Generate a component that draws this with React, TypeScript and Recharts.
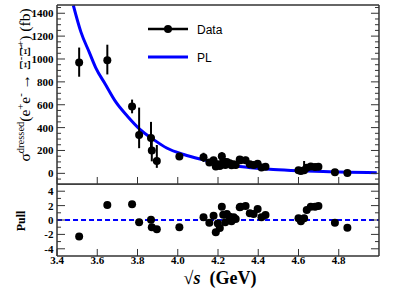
import React from 'react';
import { ComposedChart, Scatter, Line, XAxis, YAxis, ErrorBar, ReferenceLine } from 'recharts';

// measured points (sqrt(s) in GeV, dressed cross section in fb)
const ENERGY = [3.51, 3.65, 3.773, 3.808, 3.867, 3.871, 3.896, 4.008, 4.128, 4.157, 4.178, 4.189, 4.199, 4.209, 4.219, 4.226, 4.236, 4.244, 4.258, 4.267, 4.278, 4.288, 4.308, 4.312, 4.337, 4.358, 4.377, 4.397, 4.416, 4.436, 4.6, 4.612, 4.628, 4.641, 4.661, 4.682, 4.699, 4.781, 4.843];
const XSEC = [970, 990, 585, 335, 310, 200, 108, 148, 140, 95, 115, 60, 80, 65, 150, 105, 72, 100, 88, 70, 80, 72, 120, 115, 115, 80, 72, 85, 52, 58, 28, 20, 28, 48, 60, 55, 58, 10, 2];
const ERR_LOW = [125, 125, 60, 115, 140, 95, 60, 30, 40, 30, 25, 20, 20, 20, 35, 25, 20, 25, 28, 20, 25, 30, 30, 30, 30, 25, 25, 25, 22, 25, 15, 15, 28, 20, 22, 20, 22, 10, 8];
const ERR_HIGH = [130, 135, 60, 240, 140, 100, 140, 30, 40, 30, 25, 20, 20, 20, 35, 25, 20, 25, 28, 20, 25, 30, 30, 30, 30, 25, 25, 25, 22, 25, 15, 15, 80, 20, 22, 20, 22, 10, 8];
const PULL = [-2.3, 2.1, 2.2, -0.3, 0.05, -1.0, -1.3, -1.0, 0.37, -0.37, 0.6, -1.7, -0.5, -1.1, 1.85, 0.74, -0.33, 0.83, 0.46, -0.19, 0.37, 0.14, 1.76, 1.85, 1.94, 0.93, 0.83, 1.53, 0.37, 0.69, 0.23, -0.19, 0.23, 1.39, 1.85, 1.85, 1.94, -0.37, -1.06];

// PL fit curve
const PL_X = [3.481, 3.519, 3.56, 3.592, 3.64, 3.692, 3.75, 3.812, 3.88, 3.945, 4.03, 4.111, 4.226, 4.35, 4.475, 4.6, 4.723, 4.85, 4.989];
const PL_Y = [1470, 1235, 1060, 925, 780, 625, 500, 385, 295, 222, 165, 125, 80, 52, 34, 23, 16, 10, 6];

const X_MAJOR = [3.4, 3.6, 3.8, 4.0, 4.2, 4.4, 4.6, 4.8];
const Y_MAJOR = [0, 200, 400, 600, 800, 1000, 1200, 1400];
const PULL_MAJOR = [-4, -2, 0, 2, 4];

const X_DOMAIN: [number, number] = [3.4, 5.0];
const Y_DOMAIN: [number, number] = [-93, 1472];
const PULL_DOMAIN: [number, number] = [-5, 5];

const FRAME = '#333';
const SERIF = "'Liberation Serif', 'Times New Roman', serif";
const SANS = "'Liberation Sans', Arial, sans-serif";
const THIN = 0.01; // axes must have a non-zero size to be drawn

const minorTicks = (from: number, to: number, step: number, major: number[]) => {
    const out: number[] = [];
    for (let v = from; v <= to + 1e-9; v += step) {
        const r = Math.round(v * 1000) / 1000;
        if (!major.some((m) => Math.abs(m - r) < 1e-6)) out.push(r);
    }
    return out;
};

const X_MINOR = minorTicks(3.45, 4.95, 0.05, X_MAJOR);
const Y_MINOR = minorTicks(-50, 1450, 50, Y_MAJOR);
const PULL_MINOR = minorTicks(-3, 3, 1, PULL_MAJOR);

const mainData = ENERGY.map((x, i) => ({ x, y: XSEC[i], err: [ERR_LOW[i], ERR_HIGH[i]] }));
const pullData = ENERGY.map((x, i) => ({ x, y: PULL[i] }));
const plData = PL_X.map((x, i) => ({ x, y: PL_Y[i] }));

const tickFont = { fontSize: 11, fontWeight: 'bold', fontFamily: SERIF, fill: '#000' };
const noLabel = () => <g />;
const Dot = (props: any) => <circle cx={props.cx} cy={props.cy} r={4} fill="#000" />;

const frameAxes = (yDomain: [number, number], yMajor: number[], yMinor: number[], xLabels: boolean) => {
    const line = { stroke: FRAME, strokeWidth: 1.5 };
    const tl = { stroke: FRAME, strokeWidth: 1 };
    const common = { type: 'number' as const, allowDataOverflow: true, interval: 0 as const };
    return [
        <XAxis key="xb" xAxisId="main" dataKey="x" {...common} domain={X_DOMAIN} ticks={X_MAJOR} height={THIN}
            tickSize={-7} tickMargin={7} axisLine={line} tickLine={tl}
            tick={xLabels ? tickFont : noLabel} tickFormatter={(v: number) => v.toFixed(1)} />,
        <XAxis key="xbm" xAxisId="bm" {...common} domain={X_DOMAIN} ticks={X_MINOR} height={THIN}
            tickSize={-4} axisLine={false} tickLine={tl} tick={noLabel} />,
        <XAxis key="xt" xAxisId="t" orientation="top" {...common} domain={X_DOMAIN} ticks={X_MAJOR} height={THIN}
            tickSize={-7} axisLine={line} tickLine={tl} tick={noLabel} />,
        <XAxis key="xtm" xAxisId="tm" orientation="top" {...common} domain={X_DOMAIN} ticks={X_MINOR} height={THIN}
            tickSize={-4} axisLine={false} tickLine={tl} tick={noLabel} />,
        <YAxis key="yl" yAxisId="main" {...common} domain={yDomain} ticks={yMajor} width={THIN}
            tickSize={-8} tickMargin={11.5} axisLine={line} tickLine={tl} tick={tickFont} />,
        <YAxis key="ylm" yAxisId="lm" {...common} domain={yDomain} ticks={yMinor} width={THIN}
            tickSize={-4} axisLine={false} tickLine={tl} tick={noLabel} />,
        <YAxis key="yr" yAxisId="r" orientation="right" {...common} domain={yDomain} ticks={yMajor} width={THIN}
            tickSize={-8} axisLine={line} tickLine={tl} tick={noLabel} />,
        <YAxis key="yrm" yAxisId="rm" orientation="right" {...common} domain={yDomain} ticks={yMinor} width={THIN}
            tickSize={-4} axisLine={false} tickLine={tl} tick={noLabel} />,
    ];
};

const App: React.FC = () => {
    return (
        <div style={{ position: 'absolute', left: 0, top: 0, width: 399, height: 288, background: 'white' }}>
            <div style={{ position: 'absolute', left: 0, top: 0 }}>
                <ComposedChart width={399} height={185} margin={{ top: 5, right: 20, bottom: 1, left: 57 }}>
                    {frameAxes(Y_DOMAIN, Y_MAJOR, Y_MINOR, false)}
                    <Line data={plData} xAxisId="main" yAxisId="main" dataKey="y" type="monotone"
                        stroke="#0000ff" strokeWidth={3} dot={false} activeDot={false} isAnimationActive={false} />
                    <Scatter data={mainData} xAxisId="main" yAxisId="main" dataKey="y" shape={Dot} isAnimationActive={false}>
                        <ErrorBar dataKey="err" direction="y" width={0} stroke="#000" strokeWidth={2} isAnimationActive={false} />
                    </Scatter>
                </ComposedChart>
            </div>
            <div style={{ position: 'absolute', left: 0, top: 184 }}>
                <ComposedChart width={399} height={104} margin={{ top: 0, right: 20, bottom: 32, left: 57 }}>
                    {frameAxes(PULL_DOMAIN, PULL_MAJOR, PULL_MINOR, true)}
                    <ReferenceLine xAxisId="main" yAxisId="main" y={0} stroke="#0000ff" strokeWidth={2} strokeDasharray="5 3" />
                    <Scatter data={pullData} xAxisId="main" yAxisId="main" dataKey="y" shape={Dot} isAnimationActive={false} />
                </ComposedChart>
            </div>
            <svg width={399} height={288} style={{ position: 'absolute', left: 0, top: 0, pointerEvents: 'none' }}>
                {/* legend */}
                <line x1={148} x2={188} y1={29} y2={29} stroke="#000" strokeWidth={2.5} />
                <circle cx={168} cy={29} r={4} fill="#000" />
                <text x={197} y={34} fontFamily={SANS} fontSize={12}>Data</text>
                <line x1={148} x2={188} y1={57} y2={57} stroke="#0000ff" strokeWidth={3} />
                <text x={197} y={61.5} fontFamily={SANS} fontSize={12}>PL</text>

                {/* y title, top panel */}
                <text transform="translate(30, 85) rotate(-90)" textAnchor="middle" fontFamily={SERIF} fontSize={15.5}>
                    <tspan>σ</tspan>
                    <tspan fontSize={10.5} dy={-6}>dressed</tspan>
                    <tspan dy={6}>(e</tspan>
                    <tspan fontSize={10.5} dy={-6}>+</tspan>
                    <tspan dy={6}>e</tspan>
                    <tspan fontSize={10.5} dy={-6}>-</tspan>
                    <tspan dy={6}> → Ξ</tspan>
                    <tspan fontSize={10.5} dy={-6}>-</tspan>
                    <tspan dy={6}>{'Ξ\u0304'}</tspan>
                    <tspan fontSize={10.5} dy={-6}>+</tspan>
                    <tspan dy={6}>) (fb)</tspan>
                </text>

                {/* y title, pull panel */}
                <text transform="translate(25, 221) rotate(-90)" textAnchor="middle" fontFamily={SERIF} fontSize={12} fontWeight="bold">Pull</text>

                {/* x title */}
                <text x={220} y={284} textAnchor="middle" fontFamily={SERIF} fontSize={18} fontWeight="bold">
                    √<tspan fontStyle="italic">s</tspan>
                    <tspan dx={9}>(GeV)</tspan>
                </text>
            </svg>
        </div>
    );
};

export default App;
